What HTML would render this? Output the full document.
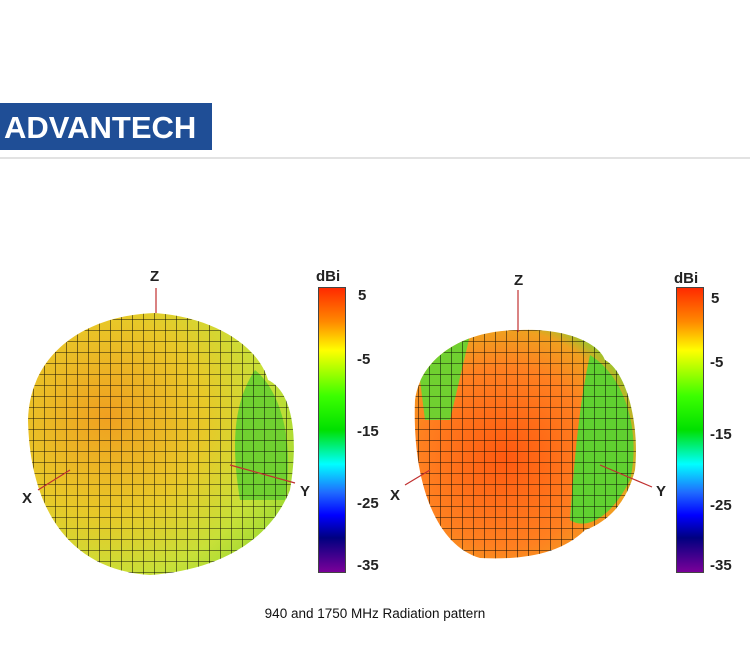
<!DOCTYPE html>
<html><head><style>
body{margin:0;width:750px;height:650px;background:#fff;position:relative;overflow:hidden;font-family:"Liberation Sans",Arial,sans-serif}
.logo{position:absolute;left:0;top:103px;width:212px;height:47px;background:#1f4e96;color:#fff;font-weight:bold;font-size:31px;line-height:49px;padding-left:4px;box-sizing:border-box;letter-spacing:0px}
.hr{position:absolute;left:0;top:157px;width:750px;height:2px;background:#e2e2e2}
.cap{position:absolute;left:0;width:750px;top:606px;text-align:center;font-size:13.5px;color:#111}
.cb{position:absolute;top:287px;width:28px;height:286px;border:1px solid #444;box-sizing:border-box;background:linear-gradient(#ff2a00,#ff8a00 12%,#ffff00 22%,#3cff00 38%,#00e000 50%,#00ffff 62%,#1f6bff 72%,#0000ff 80%,#000080 88%,#7a0099)}
.t{position:absolute;font-size:15px;font-weight:bold;color:#222}
</style></head><body>
<div class="logo">ADVANTECH</div>
<div class="hr"></div>
<svg width="750" height="650" style="position:absolute;left:0;top:0">
<defs>
<radialGradient id="g1" cx="0.3" cy="0.4" r="0.75"><stop offset="0" stop-color="#f0a020"/><stop offset="0.45" stop-color="#e8c828"/><stop offset="0.75" stop-color="#c8e038"/><stop offset="1" stop-color="#90d830"/></radialGradient>
<radialGradient id="g2" cx="0.4" cy="0.55" r="0.6"><stop offset="0" stop-color="#ff5a10"/><stop offset="0.6" stop-color="#ff8020"/><stop offset="0.85" stop-color="#f0a020"/><stop offset="1" stop-color="#80d030"/></radialGradient>
<pattern id="grid" width="11" height="11" patternUnits="userSpaceOnUse"><path d="M0 0H11M0 0V11" stroke="#000" stroke-width="1.1" fill="none"/></pattern>
<clipPath id="c1"><path d="M28 420 C30 350 90 315 155 313 C220 318 260 350 268 380 C290 390 300 430 290 490 C270 540 220 570 150 575 C70 570 30 510 28 420Z"/></clipPath>
<clipPath id="c2"><path d="M415 400 C420 360 460 330 520 330 C570 328 600 345 605 360 C625 370 640 420 635 470 C625 510 600 525 585 530 C560 555 520 560 480 558 C435 545 412 480 415 400Z"/></clipPath>
</defs>
<g clip-path="url(#c1)"><rect x="20" y="300" width="290" height="290" fill="url(#g1)"/><path d="M255 370 C280 390 295 440 285 500 L240 500 C230 440 235 400 255 370Z" fill="#70d030"/><rect x="20" y="300" width="290" height="290" fill="url(#grid)" opacity="0.9"/></g>
<g clip-path="url(#c2)"><rect x="410" y="320" width="240" height="250" fill="url(#g2)"/><path d="M590 355 C630 380 640 440 630 480 C610 520 585 530 570 520 C575 450 580 400 590 355Z" fill="#60d030"/><path d="M420 380 C430 350 450 335 470 335 L450 420 L425 420Z" fill="#70d030"/><rect x="410" y="320" width="240" height="250" fill="url(#grid)" opacity="0.9"/></g>
<g stroke="#c03030" stroke-width="1.2"><line x1="156" y1="288" x2="156" y2="313"/><line x1="38" y1="490" x2="70" y2="470"/><line x1="230" y1="465" x2="295" y2="483"/><line x1="518" y1="290" x2="518" y2="332"/><line x1="405" y1="485" x2="430" y2="470"/><line x1="600" y1="465" x2="652" y2="487"/></g>
</svg>
<div class="t" style="left:150px;top:268px">Z</div>
<div class="t" style="left:22px;top:490px">X</div>
<div class="t" style="left:300px;top:483px">Y</div>
<div class="t" style="left:514px;top:272px">Z</div>
<div class="t" style="left:390px;top:487px">X</div>
<div class="t" style="left:656px;top:483px">Y</div>
<div class="t" style="left:316px;top:268px">dBi</div>
<div class="cb" style="left:318px"></div>
<div class="t" style="left:358px;top:287px">5</div>
<div class="t" style="left:357px;top:351px">-5</div>
<div class="t" style="left:357px;top:423px">-15</div>
<div class="t" style="left:357px;top:495px">-25</div>
<div class="t" style="left:357px;top:557px">-35</div>
<div class="t" style="left:674px;top:270px">dBi</div>
<div class="cb" style="left:676px"></div>
<div class="t" style="left:711px;top:290px">5</div>
<div class="t" style="left:710px;top:354px">-5</div>
<div class="t" style="left:710px;top:426px">-15</div>
<div class="t" style="left:710px;top:497px">-25</div>
<div class="t" style="left:710px;top:557px">-35</div>
<div class="cap">940 and 1750 MHz Radiation pattern</div>
</body></html>
